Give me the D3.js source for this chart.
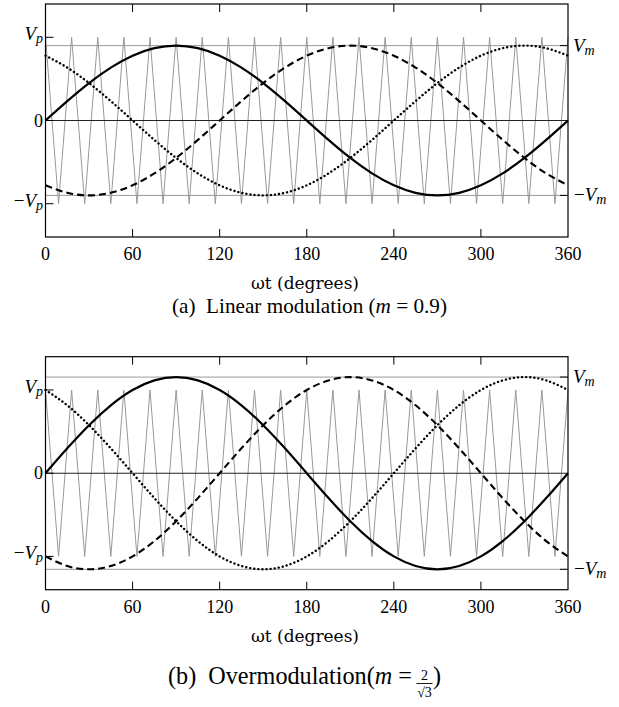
<!DOCTYPE html>
<html>
<head>
<meta charset="utf-8">
<script src="https://cdn.jsdelivr.net/npm/d3@7"></script>
<style>
  body { margin: 0; background: #fff; }
</style>
</head>
<body>
<div id="chart"></div>
<script>
// angles (degrees) at which the reference waves were read
const sampleDeg = [0, 15, 30, 45, 60, 75, 90, 105, 120, 135, 150, 165, 180,
  195, 210, 225, 240, 255, 270, 285, 300, 315, 330, 345, 360];

// (a) m = 0.9
const aSolid  = [0, .233, .45, .636, .779, .869, .9, .869, .779, .636, .45, .233, 0,
  -.233, -.45, -.636, -.779, -.869, -.9, -.869, -.779, -.636, -.45, -.233, 0];
const aDashed = [-.779, -.869, -.9, -.869, -.779, -.636, -.45, -.233, 0, .233, .45, .636, .779,
  .869, .9, .869, .779, .636, .45, .233, 0, -.233, -.45, -.636, -.779];
const aDotted = [.779, .636, .45, .233, 0, -.233, -.45, -.636, -.779, -.869, -.9, -.869, -.779,
  -.636, -.45, -.233, 0, .233, .45, .636, .779, .869, .9, .869, .779];

// (b) m = 2/sqrt(3)
const bSolid  = [0, .299, .577, .816, 1, 1.115, 1.155, 1.115, 1, .816, .577, .299, 0,
  -.299, -.577, -.816, -1, -1.115, -1.155, -1.115, -1, -.816, -.577, -.299, 0];
const bDashed = [-1, -1.115, -1.155, -1.115, -1, -.816, -.577, -.299, 0, .299, .577, .816, 1,
  1.115, 1.155, 1.115, 1, .816, .577, .299, 0, -.299, -.577, -.816, -1];
const bDotted = [1, .816, .577, .299, 0, -.299, -.577, -.816, -1, -1.115, -1.155, -1.115, -1,
  -.816, -.577, -.299, 0, .299, .577, .816, 1, 1.115, 1.155, 1.115, 1];

// triangular carrier, corners
const carrierDeg = [0, 9, 18, 27, 36, 45, 54, 63, 72, 81, 90, 99, 108, 117, 126, 135, 144, 153,
  162, 171, 180, 189, 198, 207, 216, 225, 234, 243, 252, 261, 270, 279, 288, 297, 306, 315,
  324, 333, 342, 351, 360];
const carrierVal = [1, -1, 1, -1, 1, -1, 1, -1, 1, -1, 1, -1, 1, -1, 1, -1, 1, -1, 1, -1, 1,
  -1, 1, -1, 1, -1, 1, -1, 1, -1, 1, -1, 1, -1, 1, -1, 1, -1, 1, -1, 1];

const xTicks = [0, 60, 120, 180, 240, 300, 360];
const mValues = [0.9, 1.155];

const serif = '"Liberation Serif", "Times New Roman", serif';
const wide = '"DejaVu Serif", serif';
const width = 619, height = 707;
const svg = d3.select("#chart").append("svg")
  .attr("width", width).attr("height", height)
  .style("font-family", serif);

const x = d3.scaleLinear().domain([0, 360]).range([45.5, 568]);

const panels = [
  { top: 4, m: mValues[0], solid: aSolid, dashed: aDashed, dotted: aDotted },
  { top: 356.7, m: mValues[1], solid: bSolid, dashed: bDashed, dotted: bDotted }
];

// scale a text's font size so it spans a given width
function fit(t, base, target) {
  t.style("font-size", base + "px");
  const w = t.node().getComputedTextLength();
  t.style("font-size", (base * target / w) + "px");
}

function label(g, xpos, ypos, anchor, minus, sub) {
  const t = g.append("text").attr("x", xpos).attr("y", ypos)
    .attr("text-anchor", anchor).style("font-family", serif).style("font-size", "19px");
  if (minus) t.append("tspan").text("\u2212");
  t.append("tspan").style("font-style", "italic").text("V");
  t.append("tspan").style("font-style", "italic").style("font-size", "14px")
    .attr("dy", 3).text(sub);
}

panels.forEach((p, i) => {
  const g = svg.append("g");
  const y = d3.scaleLinear().domain([-1.4, 1.4]).range([p.top + 233, p.top]);

  // gray reference lines at +/- Vm
  g.selectAll(".vm").data([p.m, -p.m]).enter().append("line")
    .attr("x1", x(0)).attr("x2", x(360))
    .attr("y1", d => y(d)).attr("y2", d => y(d))
    .attr("stroke", "#9a9a9a").attr("stroke-width", 1);

  // carrier
  const carrier = carrierDeg.map((d, k) => [d, carrierVal[k]]);
  g.append("path").datum(carrier)
    .attr("d", d3.line().x(d => x(d[0])).y(d => y(d[1])))
    .attr("fill", "none").attr("stroke", "#999").attr("stroke-width", 1);

  // zero line
  g.append("line").attr("x1", x(0)).attr("x2", x(360))
    .attr("y1", y(0)).attr("y2", y(0))
    .attr("stroke", "#222").attr("stroke-width", 1.1);

  const line = d3.line().x(d => x(d[0])).y(d => y(d[1])).curve(d3.curveNatural);
  const waves = [
    { vals: p.dotted, dash: "0.1 4", cap: "round", w: 2.4 },
    { vals: p.dashed, dash: "7 4", cap: "butt", w: 2.1 },
    { vals: p.solid, dash: null, cap: "butt", w: 2.2 }
  ];
  waves.forEach(wv => {
    g.append("path").datum(sampleDeg.map((d, k) => [d, wv.vals[k]]))
      .attr("d", line)
      .attr("fill", "none").attr("stroke", "#000")
      .attr("stroke-width", wv.w)
      .attr("stroke-linecap", wv.cap)
      .attr("stroke-dasharray", wv.dash);
  });

  // frame
  g.append("rect").attr("x", x(0)).attr("y", y(1.4))
    .attr("width", x(360) - x(0)).attr("height", y(-1.4) - y(1.4))
    .attr("fill", "none").attr("stroke", "#000").attr("stroke-width", 1.2);

  // inner ticks top/bottom
  const inner = xTicks.slice(1, -1);
  g.selectAll(".tt").data(inner).enter().append("line")
    .attr("x1", d => x(d)).attr("x2", d => x(d))
    .attr("y1", y(1.4)).attr("y2", y(1.4) + 8)
    .attr("stroke", "#000");
  g.selectAll(".tb").data(inner).enter().append("line")
    .attr("x1", d => x(d)).attr("x2", d => x(d))
    .attr("y1", y(-1.4)).attr("y2", y(-1.4) - 8)
    .attr("stroke", "#000");
  // left ticks Vp, 0, -Vp
  g.selectAll(".tl").data([1, 0, -1]).enter().append("line")
    .attr("x1", x(0)).attr("x2", x(0) + 8)
    .attr("y1", d => y(d)).attr("y2", d => y(d))
    .attr("stroke", "#000");
  // right ticks Vm, -Vm
  g.selectAll(".tr").data([p.m, -p.m]).enter().append("line")
    .attr("x1", x(360)).attr("x2", x(360) - 8)
    .attr("y1", d => y(d)).attr("y2", d => y(d))
    .attr("stroke", "#000");

  // x tick labels
  g.selectAll(".xl").data(xTicks).enter().append("text")
    .attr("x", d => x(d)).attr("y", y(-1.4) + 23)
    .attr("text-anchor", "middle")
    .style("font-family", serif).style("font-size", "18px")
    .text(d => d);

  const xl = g.append("text").attr("x", 305).attr("y", y(-1.4) + 52)
    .attr("text-anchor", "middle").style("font-family", wide)
    .text("\u03c9t (degrees)");
  fit(xl, 14, 108);

  // y labels
  label(g, 43, y(1) + 3, "end", false, "p");
  g.append("text").attr("x", 43).attr("y", y(0) + 6).attr("text-anchor", "end")
    .style("font-family", serif).style("font-size", "18px").text("0");
  label(g, 43, y(-1) + 3, "end", true, "p");
  label(g, 573, y(p.m) + 6, "start", false, "m");
  label(g, 574, y(-p.m) + 6, "start", true, "m");
});

// captions
const capA = svg.append("text").attr("x", 309.5).attr("y", 313)
  .attr("text-anchor", "middle").style("font-family", serif);
capA.append("tspan").text("(a)\u2002Linear modulation (");
capA.append("tspan").style("font-style", "italic").text("m");
capA.append("tspan").text(" = 0.9)");
fit(capA, 17, 275);

const capB = svg.append("g");
const tb = capB.append("text").attr("x", 168).attr("y", 684).style("font-family", serif);
tb.append("tspan").text("(b)\u2002Overmodulation(");
tb.append("tspan").style("font-style", "italic").text("m");
tb.append("tspan").text(" = ");
fit(tb, 17, 244);
const fx = 424.5;
capB.append("text").attr("x", fx).attr("y", 680).attr("text-anchor", "middle")
  .style("font-family", serif).style("font-size", "14px").text("2");
capB.append("line").attr("x1", fx - 8).attr("x2", fx + 8)
  .attr("y1", 683.5).attr("y2", 683.5).attr("stroke", "#000").attr("stroke-width", 0.9);
capB.append("text").attr("x", fx).attr("y", 697).attr("text-anchor", "middle")
  .style("font-family", serif).style("font-size", "14px").text("\u221a3");
capB.append("text").attr("x", 433).attr("y", 684)
  .style("font-family", serif).style("font-size", tb.style("font-size")).text(")");
</script>
</body>
</html>
